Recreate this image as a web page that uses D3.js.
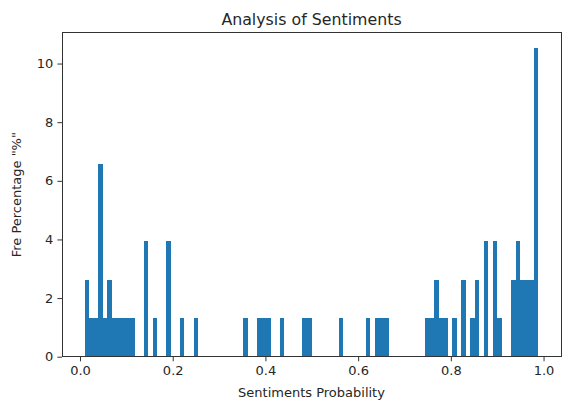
<!DOCTYPE html>
<html>
<head>
<meta charset="utf-8">
<script src="https://cdn.jsdelivr.net/npm/d3@7"></script>
<style>
  body { margin: 0; background: white; }
  svg { display: block; }
</style>
</head>
<body>
<svg id="chart"></svg>
<script>
// histogram: 100 bins between binStart and binEnd, counts out of 76 sentences
let binStart = 0.0101;
let binEnd = 0.9887;
let totalCount = 76;
let binCounts = [
    2, 1, 1, 5, 1, 2, 1, 1, 1, 1,
    1, 0, 0, 3, 0, 1, 0, 0, 3, 0,
    0, 1, 0, 0, 1, 0, 0, 0, 0, 0,
    0, 0, 0, 0, 0, 1, 0, 0, 1, 1,
    1, 0, 0, 1, 0, 0, 0, 0, 1, 1,
    0, 0, 0, 0, 0, 0, 1, 0, 0, 0,
    0, 0, 1, 0, 1, 1, 1, 0, 0, 0,
    0, 0, 0, 0, 0, 1, 1, 2, 1, 1,
    0, 1, 0, 2, 0, 1, 2, 0, 3, 0,
    3, 1, 0, 0, 2, 3, 2, 2, 2, 8
];
let xTicks = [0.0, 0.2, 0.4, 0.6, 0.8, 1.0];
let yTicks = [0, 2, 4, 6, 8, 10];

let titleText = "Analysis of Sentiments";
let xLabelText = "Sentiments Probability";
let yLabelText = 'Fre Percentage "%"';

var barColor = "#1f77b4";
var fontFamily = "'DejaVu Sans', sans-serif";

function drawHistogram() {
    var svg = d3.select("#chart")
        .attr("width", 569)
        .attr("height", 411);

    var left = 62, right = 561, top = 32.7, bottom = 356.7;
    var width = right - left,
        height = bottom - top;

    var nBins = binCounts.length;
    var binWidth = (binEnd - binStart) / nBins;
    var pad = 0.05 * (binEnd - binStart);

    // one record per bin, percent of all samples
    var bins = binCounts.map(function (c, i) {
        return {
            x0: binStart + i * binWidth,
            x1: binStart + (i + 1) * binWidth,
            pct: c * 100 / totalCount
        };
    });

    var maxPct = d3.max(bins, function (d) { return d.pct; });

    var x = d3.scaleLinear().range([0, width]).domain([binStart - pad, binEnd + pad]);
    var y = d3.scaleLinear().range([height, 0]).domain([0, maxPct * 1.05]);

    var g = svg.append("g")
        .attr("transform", "translate(" + left + "," + top + ")");

    // bars
    g.append("g")
        .selectAll("rect")
        .data(bins.filter(function (d) { return d.pct > 0; }))
        .enter()
        .append("rect")
        .attr("x", function (d) { return x(d.x0); })
        .attr("width", function (d) { return x(d.x1) - x(d.x0); })
        .attr("y", function (d) { return y(d.pct); })
        .attr("height", function (d) { return height - y(d.pct); })
        .attr("fill", barColor)
        .attr("shape-rendering", "crispEdges");

    // axes
    var xAxis = g.append("g")
        .attr("transform", "translate(0," + height + ")")
        .call(d3.axisBottom(x).tickValues(xTicks).tickFormat(d3.format(".1f")).tickSize(4.6).tickPadding(4.2));

    var yAxis = g.append("g")
        .call(d3.axisLeft(y).tickValues(yTicks).tickFormat(d3.format("d")).tickSize(4.6).tickPadding(4.2));

    [xAxis, yAxis].forEach(function (a) {
        a.select(".domain").remove();
        a.selectAll("line").attr("stroke", "#333").attr("stroke-width", 1);
        a.selectAll("text")
            .attr("fill", "#262626")
            .attr("font-family", fontFamily)
            .attr("font-size", "13px");
    });

    // frame (all four spines)
    g.append("rect")
        .attr("x", 0)
        .attr("y", 0)
        .attr("width", width)
        .attr("height", height)
        .attr("fill", "none")
        .attr("stroke", "#333")
        .attr("stroke-width", 1)
        .attr("shape-rendering", "crispEdges");

    // title
    svg.append("text")
        .attr("x", left + width / 2)
        .attr("y", 24.5)
        .attr("text-anchor", "middle")
        .attr("fill", "#262626")
        .attr("font-family", fontFamily)
        .attr("font-size", "15.8px")
        .text(titleText);

    // x label
    svg.append("text")
        .attr("x", left + width / 2)
        .attr("y", 397)
        .attr("text-anchor", "middle")
        .attr("fill", "#262626")
        .attr("font-family", fontFamily)
        .attr("font-size", "13px")
        .text(xLabelText);

    // y label
    svg.append("text")
        .attr("transform", "translate(21," + (top + height / 2) + ") rotate(-90)")
        .attr("text-anchor", "middle")
        .attr("fill", "#262626")
        .attr("font-family", fontFamily)
        .attr("font-size", "13px")
        .text(yLabelText);
}

drawHistogram();
</script>
</body>
</html>
